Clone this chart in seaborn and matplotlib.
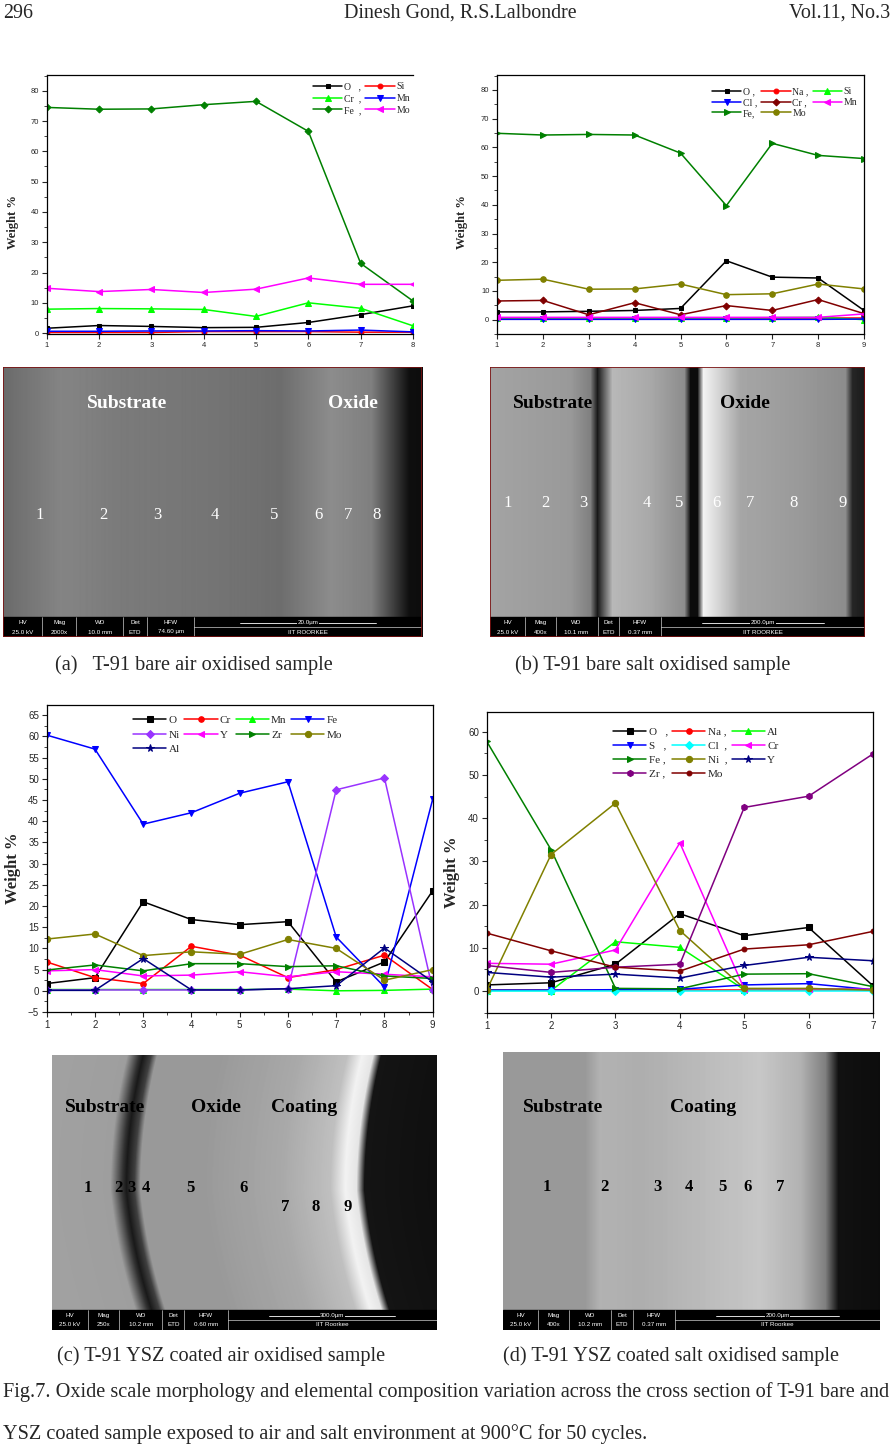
import numpy as np
import matplotlib
matplotlib.use("Agg")
import matplotlib.pyplot as plt
import seaborn as sns
from matplotlib.ticker import MultipleLocator
from matplotlib.patches import Rectangle

sns.set_theme(style="ticks")
plt.rcParams['font.family'] = ['Liberation Serif', 'DejaVu Serif']

W, H = 892, 1449

# (a) T-91 bare, air oxidised
a_pts = [1, 2, 3, 4, 5, 6, 7, 8]
a_O = [1.6, 2.5, 2.2, 1.8, 1.9, 3.5, 6.1, 9.0]
a_Si = [0.2, 0.2, 0.2, 0.5, 0.5, 0.5, 0.3, 0.3]
a_Cr = [7.9, 8.1, 8.0, 7.8, 5.5, 10.0, 8.2, 2.4]
a_Mn = [0.6, 0.6, 0.7, 0.7, 0.8, 0.7, 1.0, 0.4]
a_Fe = [74.5, 73.9, 74.0, 75.4, 76.5, 66.6, 23.0, 10.6]
a_Mo = [14.8, 13.7, 14.4, 13.4, 14.5, 18.2, 16.1, 16.1]

# (b) T-91 bare, salt oxidised
b_pts = [1, 2, 3, 4, 5, 6, 7, 8, 9]
b_O = [2.7, 2.7, 2.9, 3.2, 3.9, 20.5, 14.8, 14.5, 3.2]
b_Na = [0.5, 0.5, 0.5, 0.5, 0.5, 0.5, 0.5, 0.5, 0.5]
b_Si = [0.6, 0.6, 0.6, 0.6, 0.6, 0.6, 0.7, 0.8, 0.0]
b_Cl = [0.1, 0.1, 0.1, 0.1, 0.1, 0.1, 0.1, 0.1, 0.2]
b_Cr = [6.5, 6.7, 1.7, 5.9, 1.7, 4.9, 3.2, 7.0, 2.1]
b_Mn = [0.8, 0.8, 0.8, 0.8, 0.8, 0.8, 0.8, 0.8, 2.0]
b_Fe = [64.9, 64.3, 64.5, 64.3, 58.0, 39.7, 61.4, 57.2, 56.1]
b_Mo = [13.7, 14.1, 10.6, 10.7, 12.4, 8.7, 9.0, 12.4, 10.7]

# (c) T-91 YSZ coated, air oxidised
c_pts = [1, 2, 3, 4, 5, 6, 7, 8, 9]
c_O = [1.7, 3.1, 21.0, 16.8, 15.6, 16.3, 2.1, 6.8, 23.6]
c_Cr = [6.8, 3.1, 1.7, 10.5, 8.4, 3.1, 5.0, 8.4, 0.3]
c_Mn = [0.3, 0.3, 0.3, 0.3, 0.3, 0.4, 0.0, 0.1, 0.4]
c_Fe = [60.3, 57.0, 39.3, 42.0, 46.6, 49.3, 12.7, 0.9, 45.2]
c_Ni = [0.2, 0.2, 0.2, 0.2, 0.2, 0.5, 47.4, 50.2, 0.3]
c_Y = [4.7, 5.0, 3.5, 3.7, 4.5, 3.3, 4.5, 3.9, 3.3]
c_Zr = [4.9, 6.1, 4.7, 6.4, 6.4, 5.7, 5.9, 3.5, 2.9]
c_Mo = [12.2, 13.4, 8.3, 9.2, 8.6, 12.1, 10.0, 2.5, 5.0]
c_Al = [0.1, 0.1, 7.6, 0.2, 0.2, 0.5, 1.2, 10.1, 2.1]

# (d) T-91 YSZ coated, salt oxidised
d_pts = [1, 2, 3, 4, 5, 6, 7]
d_O = [1.4, 1.9, 6.2, 17.9, 12.8, 14.7, 1.2]
d_Na = [0.2, 0.2, 0.2, 0.2, 0.2, 0.2, 0.2]
d_Al = [0.1, 0.1, 11.4, 10.1, 0.3, 0.5, 0.4]
d_S = [0.2, 0.2, 0.3, 0.4, 1.4, 1.7, 0.3]
d_Cl = [0.0, 0.0, 0.0, 0.0, 0.0, 0.0, 0.0]
d_Cr = [6.4, 6.2, 9.5, 34.3, 0.5, 0.5, 0.4]
d_Fe = [57.8, 32.7, 0.6, 0.5, 3.9, 4.0, 1.0]
d_Ni = [0.2, 31.6, 43.5, 14.0, 0.6, 0.6, 0.2]
d_Y = [4.3, 3.2, 3.9, 3.0, 5.9, 7.8, 7.0]
d_Zr = [5.9, 4.3, 5.5, 6.2, 42.5, 45.1, 54.9]
d_Mo = [13.4, 9.3, 5.5, 4.6, 9.7, 10.7, 13.8]

fig = plt.figure(figsize=(W / 100, H / 100), dpi=100)
fig.patch.set_facecolor("white")


def px_rect(x0, y0, x1, y1):
    return [x0 / W, 1 - y1 / H, (x1 - x0) / W, (y1 - y0) / H]


def ftext(x, y, s, **kw):
    fig.text(x / W, 1 - y / H, s, **kw)


def chart(rect, xs, series, ylim, ymaj, ymin, xmin, ncol, leg_xy, tick_fs, leg_fs,
          leg_sp, ylab_xy, ylab_fs, right=True):
    ax = fig.add_axes(px_rect(*rect))
    for lab, vals, col, mk, ms in series:
        sns.lineplot(x=xs, y=vals, ax=ax, color=col, marker=mk, markersize=ms,
                     markeredgecolor=col, linewidth=1.1, label=lab)
    ax.set_xlim(xs[0], xs[-1])
    ax.set_ylim(*ylim)
    ax.xaxis.set_major_locator(MultipleLocator(1))
    ax.yaxis.set_major_locator(MultipleLocator(ymaj))
    ax.yaxis.set_minor_locator(MultipleLocator(ymin))
    if xmin:
        ax.xaxis.set_minor_locator(MultipleLocator(xmin))
    ax.tick_params(which='major', length=3.5, width=0.8, labelsize=tick_fs, pad=2)
    ax.tick_params(which='minor', length=2, width=0.6)
    for t in ax.get_xticklabels() + ax.get_yticklabels():
        t.set_family('Liberation Sans')
    ax.set_xlabel('')
    ax.set_ylabel('')
    for s in ax.spines.values():
        s.set_linewidth(0.9)
        s.set_color('black')
    ax.spines['right'].set_visible(right)
    ax.grid(False)
    h, l = ax.get_legend_handles_labels()
    order = [i for c in range(ncol) for i in range(c, len(h), ncol)]
    ax.legend([h[i] for i in order], [l[i] for i in order], ncol=ncol, loc='upper left',
              bbox_to_anchor=(leg_xy[0] / W, 1 - leg_xy[1] / H), bbox_transform=fig.transFigure,
              frameon=False, fontsize=leg_fs, handlelength=3.0, columnspacing=0.4,
              labelspacing=leg_sp, handletextpad=0.2, borderpad=0, borderaxespad=0,
              numpoints=1)
    ftext(ylab_xy[0], ylab_xy[1], 'Weight %', rotation=90, ha='center', va='center',
          fontsize=ylab_fs, fontweight='bold')
    return ax


chart((46.7, 75, 413, 334), a_pts,
      [('O   ,', a_O, 'black', 's', 3.5), ('Si', a_Si, 'red', 'o', 3.5),
       ('Cr  ,', a_Cr, '#00ff00', '^', 4), ('Mn', a_Mn, 'blue', 'v', 4),
       ('Fe  ,', a_Fe, '#008000', 'D', 3.5), ('Mo', a_Mo, '#ff00ff', '<', 4)],
      (-0.3, 85.2), 10, 5, None, 2, (313, 82), 5.5, 7, 0.3, (13, 222), 9, right=False)

chart((497, 75, 864, 334), b_pts,
      [('O ,', b_O, 'black', 's', 3.5), ('Na ,', b_Na, 'red', 'o', 3.5),
       ('Si', b_Si, '#00ff00', '^', 4), ('Cl ,', b_Cl, 'blue', 'v', 4),
       ('Cr ,', b_Cr, '#800000', 'D', 3.5), ('Mn', b_Mn, '#ff00ff', '<', 4),
       ('Fe,', b_Fe, '#008000', '>', 4), ('Mo', b_Mo, '#808000', 'o', 4)],
      (-5, 85.2), 10, 5, None, 3, (712, 87), 5.5, 7, 0.2, (462, 222), 9)

chart((46.7, 705, 432.7, 1012), c_pts,
      [('O', c_O, 'black', 's', 4), ('Cr', c_Cr, 'red', 'o', 4),
       ('Mn', c_Mn, '#00ff00', '^', 4.5), ('Fe', c_Fe, 'blue', 'v', 4.5),
       ('Ni', c_Ni, '#9933ff', 'D', 4), ('Y', c_Y, '#ff00ff', '<', 4.5),
       ('Zr', c_Zr, '#008000', '>', 4.5), ('Mo', c_Mo, '#808000', 'o', 4.5),
       ('Al', c_Al, '#000080', '*', 5.5)],
      (-5, 67.4), 5, 2.5, 0.5, 4, (133, 715), 7, 8, 0.45, (13, 868), 12)

chart((486.7, 712, 873, 1013), d_pts,
      [('O   ,', d_O, 'black', 's', 4), ('Na ,', d_Na, 'red', 'o', 4),
       ('Al', d_Al, '#00ff00', '^', 4.5), ('S   ,', d_S, 'blue', 'v', 4.5),
       ('Cl  ,', d_Cl, '#00ffff', 'D', 4), ('Cr', d_Cr, '#ff00ff', '<', 4.5),
       ('Fe ,', d_Fe, '#008000', '>', 4.5), ('Ni  ,', d_Ni, '#808000', 'o', 4.5),
       ('Y', d_Y, '#000080', '*', 5.5), ('Zr ,', d_Zr, '#800080', 'h', 4.5),
       ('Mo', d_Mo, '#800000', 'o', 3.5)],
      (-5.1, 64.6), 10, 5, None, 3, (613, 727), 7, 8, 0.38, (452, 872), 12)


# SEM micrographs (grey-tone sketches of the cross sections)
def sem(x0, y0, x1, y1, knots, tones, bend=None, border=None):
    ax = fig.add_axes(px_rect(x0, y0, x1, y1))
    X, Y = np.meshgrid(np.arange(x0, x1), np.arange(y0, y1))
    shift = 0 if bend is None else bend(Y)
    img = np.interp(X - shift, knots, tones)
    ax.imshow(img, cmap='gray', vmin=0, vmax=1, extent=[x0, x1, y1, y0],
              aspect='auto', interpolation='bilinear')
    ax.set_xlim(x0, x1)
    ax.set_ylim(y1, y0)
    ax.axis('off')
    if border:
        ax.add_patch(Rectangle((x0, y0), x1 - x0, y1 - y0, fill=False,
                               edgecolor=border, lw=1.2, zorder=6))
    return ax


def info_bar(ax, x0, x1, y1, vals, scale, lab):
    bw = x1 - x0
    ax.add_patch(Rectangle((x0, y1 - 20), bw, 20, color='black', zorder=3))
    cx = x0
    for head, v, f in zip(['HV', 'Mag', 'WD', 'Det', 'HFW'], vals,
                          [0.093, 0.082, 0.112, 0.057, 0.112]):
        w = f * bw
        ax.text(cx + w / 2, y1 - 14.5, head, color='white', fontsize=4.5, ha='center',
                va='center', family='Liberation Sans', zorder=4)
        ax.text(cx + w / 2, y1 - 5, v, color='white', fontsize=4.5, ha='center',
                va='center', family='Liberation Sans', zorder=4)
        ax.plot([cx + w, cx + w], [y1 - 20, y1], color='white', lw=0.4, zorder=4)
        cx += w
    mid = (cx + x1) / 2
    ax.plot([cx + 0.2 * (x1 - cx), x1 - 0.2 * (x1 - cx)], [y1 - 14.5, y1 - 14.5],
            color='white', lw=0.6, zorder=4)
    ax.text(mid, y1 - 14.5, scale, color='white', fontsize=4.5, ha='center', va='center',
            family='Liberation Sans', zorder=5,
            bbox=dict(facecolor='black', edgecolor='none', pad=0.3))
    ax.plot([cx, x1], [y1 - 10, y1 - 10], color='white', lw=0.4, zorder=4)
    ax.text(mid, y1 - 5, lab, color='white', fontsize=4.5, ha='center', va='center',
            family='Liberation Sans', zorder=4)


ax = sem(3, 367, 422, 637,
         [3, 60, 120, 200, 280, 300, 330, 370, 392, 408, 422],
         [0.42, 0.52, 0.48, 0.46, 0.43, 0.48, 0.55, 0.5, 0.25, 0.06, 0.05], border='#7a1010')
info_bar(ax, 3, 422, 637, ['25.0 kV', '2000x', '10.0 mm', 'ETD', '74.60 µm'],
         '20.0µm', 'IIT ROORKEE')
ax.text(127, 403, 'Substrate', color='white', fontsize=14, fontweight='bold',
        ha='center', va='center')
ax.text(353, 403, 'Oxide', color='white', fontsize=14, fontweight='bold',
        ha='center', va='center')
for n, xp in zip(range(1, 9), [40, 103, 157, 215, 274, 318, 348, 377]):
    ax.text(xp, 515, str(n), color='white', fontsize=12, ha='center', va='center')

ax = sem(490, 367, 865, 637,
         [490, 570, 590, 597, 603, 612, 650, 684, 690, 697, 703, 716, 740, 800, 845, 852, 865],
         [0.64, 0.6, 0.5, 0.1, 0.35, 0.72, 0.66, 0.55, 0.05, 0.05, 0.95, 0.85, 0.65, 0.6,
          0.55, 0.15, 0.1], border='#7a1010')
info_bar(ax, 490, 865, 637, ['25.0 kV', '400x', '10.1 mm', 'ETD', '0.37 mm'],
         '200.0µm', 'IIT ROORKEE')
ax.text(553, 403, 'Substrate', color='black', fontsize=14, fontweight='bold',
        ha='center', va='center')
ax.text(745, 403, 'Oxide', color='black', fontsize=14, fontweight='bold',
        ha='center', va='center')
for n, xp in zip(range(1, 10), [508, 545, 583, 647, 679, 716, 750, 794, 843]):
    ax.text(xp, 503, str(n), color='white', fontsize=12, ha='center', va='center')


def bend_c(y):
    t = (y - 1190) / 140.0
    return 18 * t ** 2 + 14 * t * (t > 0)


ax = sem(52, 1055, 437, 1330,
         [52, 110, 122, 126, 134, 140, 200, 280, 330, 345, 356, 364, 437],
         [0.63, 0.62, 0.2, 0.1, 0.25, 0.6, 0.6, 0.66, 0.75, 0.95, 0.9, 0.08, 0.06],
         bend=bend_c)
info_bar(ax, 52, 437, 1330, ['25.0 kV', '250x', '10.2 mm', 'ETD', '0.60 mm'],
         '300.0µm', 'IIT Roorkee')
for s, xp in [('Substrate', 105), ('Oxide', 216), ('Coating', 304)]:
    ax.text(xp, 1108, s, color='black', fontsize=14, fontweight='bold',
            ha='center', va='center')
for n, xp, yp in [(1, 88, 1188), (2, 118, 1188), (3, 131, 1188), (4, 146, 1188),
                  (5, 190, 1188), (6, 244, 1188), (7, 285, 1207), (8, 316, 1207),
                  (9, 348, 1207)]:
    ax.text(xp, yp, str(n), color='black', fontsize=12, fontweight='bold',
            ha='center', va='center')

ax = sem(503, 1052, 880, 1330,
         [503, 585, 600, 640, 700, 760, 800, 825, 838, 880],
         [0.6, 0.6, 0.7, 0.68, 0.73, 0.78, 0.7, 0.5, 0.07, 0.05])
info_bar(ax, 503, 880, 1330, ['25.0 kV', '400x', '10.2 mm', 'ETD', '0.37 mm'],
         '200.0µm', 'IIT Roorkee')
for s, xp in [('Substrate', 563), ('Coating', 703)]:
    ax.text(xp, 1108, s, color='black', fontsize=14, fontweight='bold',
            ha='center', va='center')
for n, xp in zip(range(1, 8), [547, 604, 657, 689, 722, 748, 780]):
    ax.text(xp, 1187, str(n), color='black', fontsize=12, fontweight='bold',
            ha='center', va='center')

# page text
ftext(3, 13, '296', fontsize=14.4, ha='left', va='center')
ftext(460, 13, 'Dinesh Gond, R.S.Lalbondre', fontsize=14.4, ha='center', va='center')
ftext(890, 13, 'Vol.11, No.3', fontsize=14.4, ha='right', va='center')
ftext(55, 665, '(a)   T-91 bare air oxidised sample', fontsize=14.6, ha='left', va='center')
ftext(515, 665, '(b) T-91 bare salt oxidised sample', fontsize=14.6, ha='left', va='center')
ftext(57, 1356, '(c) T-91 YSZ coated air oxidised sample', fontsize=14.6, ha='left',
      va='center')
ftext(503, 1356, '(d) T-91 YSZ coated salt oxidised sample', fontsize=14.6, ha='left',
      va='center')
ftext(3, 1392, 'Fig.7. Oxide scale morphology and elemental composition variation across '
      'the cross section of T-91 bare and', fontsize=14.6, ha='left', va='center')
ftext(3, 1434, 'YSZ coated sample exposed to air and salt environment at 900°C for 50 cycles.',
      fontsize=14.6, ha='left', va='center')

fig.savefig('out.png', dpi=100)
